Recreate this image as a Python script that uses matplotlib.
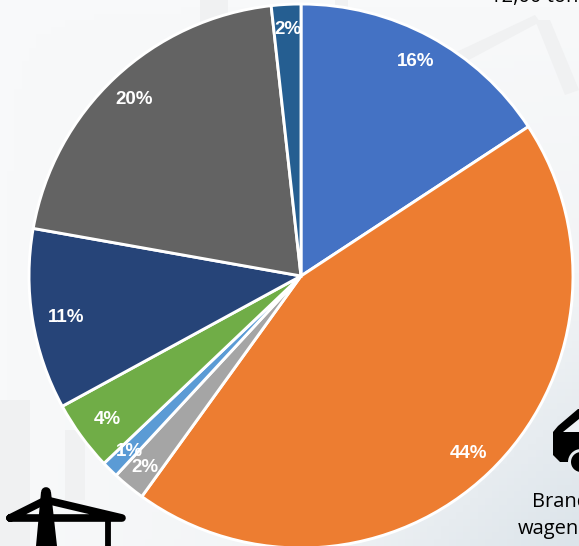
import numpy as np
import matplotlib.pyplot as plt
from matplotlib.colors import LinearSegmentedColormap
from matplotlib.patches import Polygon, Circle

plt.rcParams['font.family'] = ['Liberation Sans', 'DejaVu Sans']

# slice shares, clockwise from 12 o'clock
shares = [15.75, 44.2, 1.95, 1.0, 4.15, 10.75, 20.45, 1.75]
colors = ['#4472C4', '#ED7D31', '#A5A5A5', '#5B9BD5', '#70AD47', '#264478', '#636363', '#255E91']
# where each percent label sits, in image pixels
label_pos = [(416, 61), (468, 454), (145, 467), (129, 452), (107, 420), (66, 317), (134, 100), (288, 30)]

W, H = 579, 546


def flip(y):
    # image pixels count from the top, the axes from the bottom
    return H - y


fig = plt.figure(figsize=(W / 100, H / 100), dpi=100)
ax = fig.add_axes([0, 0, 1, 1])

# backdrop: pale slide picture, bluer towards the lower right
bg_cmap = LinearSegmentedColormap.from_list('bg', ['#f8f9fa', '#f2f4f6', '#dce4ea'])
xx, yy = np.meshgrid(np.linspace(0, 1, 80), np.linspace(0, 1, 80))
ax.imshow(xx * yy, cmap=bg_cmap, vmin=0, vmax=1,
          extent=[0, W, 0, H], origin='upper', aspect='auto', zorder=0)
for pts in [[(200, 0), (228, 0), (228, 60), (200, 60)],
            [(335, 0), (348, 0), (348, 30), (335, 30)],
            [(450, 55), (535, 15), (540, 22), (465, 62)],
            [(535, 20), (550, 20), (579, 90), (565, 95)],
            [(0, 400), (30, 400), (30, 546), (0, 546)],
            [(65, 430), (85, 430), (85, 500), (65, 500)]]:
    ax.add_patch(Polygon([(x, flip(y)) for x, y in pts], closed=True, color='#f0f1f2', lw=0, zorder=1))

wedges, texts, autotexts = ax.pie(
    shares, colors=colors, startangle=90, counterclock=False, center=(301, flip(276)), radius=272,
    normalize=True, autopct='%.0f%%', frame=True,
    wedgeprops={'edgecolor': 'white', 'linewidth': 2.1, 'zorder': 3},
    textprops={'color': 'white', 'fontsize': 13.5, 'fontweight': 'bold'})
for t, (x, y) in zip(autotexts, label_pos):
    t.set_position((x, flip(y)))
    t.set_ha('center')
    t.set_va('center')
    t.set_zorder(5)

ax.set_xlim(0, W)
ax.set_ylim(0, H)
ax.axis('off')

# tower icon bottom left
ax.plot([10, 46, 122, 10], [flip(518), flip(500), flip(518), flip(518)], color='black', lw=5.5,
        solid_joinstyle='round', solid_capstyle='round', zorder=4)
ax.add_patch(Polygon([(41, flip(492)), (51, flip(492)), (57, flip(546)), (36, flip(546))], closed=True,
                     color='black', lw=0, zorder=4))
ax.plot([46, 46], [flip(492), flip(510)], color='black', lw=7, solid_capstyle='round', zorder=4)
ax.plot([108, 108], [flip(518), flip(546)], color='black', lw=4.2, zorder=4)

# car icon right edge
ax.add_patch(Polygon([(553, flip(432)), (558, flip(426)), (578, flip(409)), (579, flip(409)), (579, flip(462)),
                     (560, flip(462)), (553, flip(455))], closed=True, color='black', lw=0, zorder=4))
ax.add_patch(Polygon([(563, flip(432)), (579, flip(419)), (579, flip(432))], closed=True,
                     color='#eef1f4', lw=0, zorder=5))
ax.add_patch(Circle((581, flip(462)), 13, color='#e6ebef', lw=0, zorder=5))
ax.add_patch(Circle((581, flip(462)), 10, color='black', lw=0, zorder=6))

# slide text cut off by the crop
ax.text(490, flip(-3), '12,00 ton', fontsize=14.5, color='black', ha='left', va='center', family='Open Sans')
ax.text(532, flip(502), 'Brand', fontsize=14.5, color='black', ha='left', va='center', family='Open Sans')
ax.text(518, flip(529), 'wagen', fontsize=14.5, color='black', ha='left', va='center', family='Open Sans')

fig.savefig('out.png', dpi=100)
